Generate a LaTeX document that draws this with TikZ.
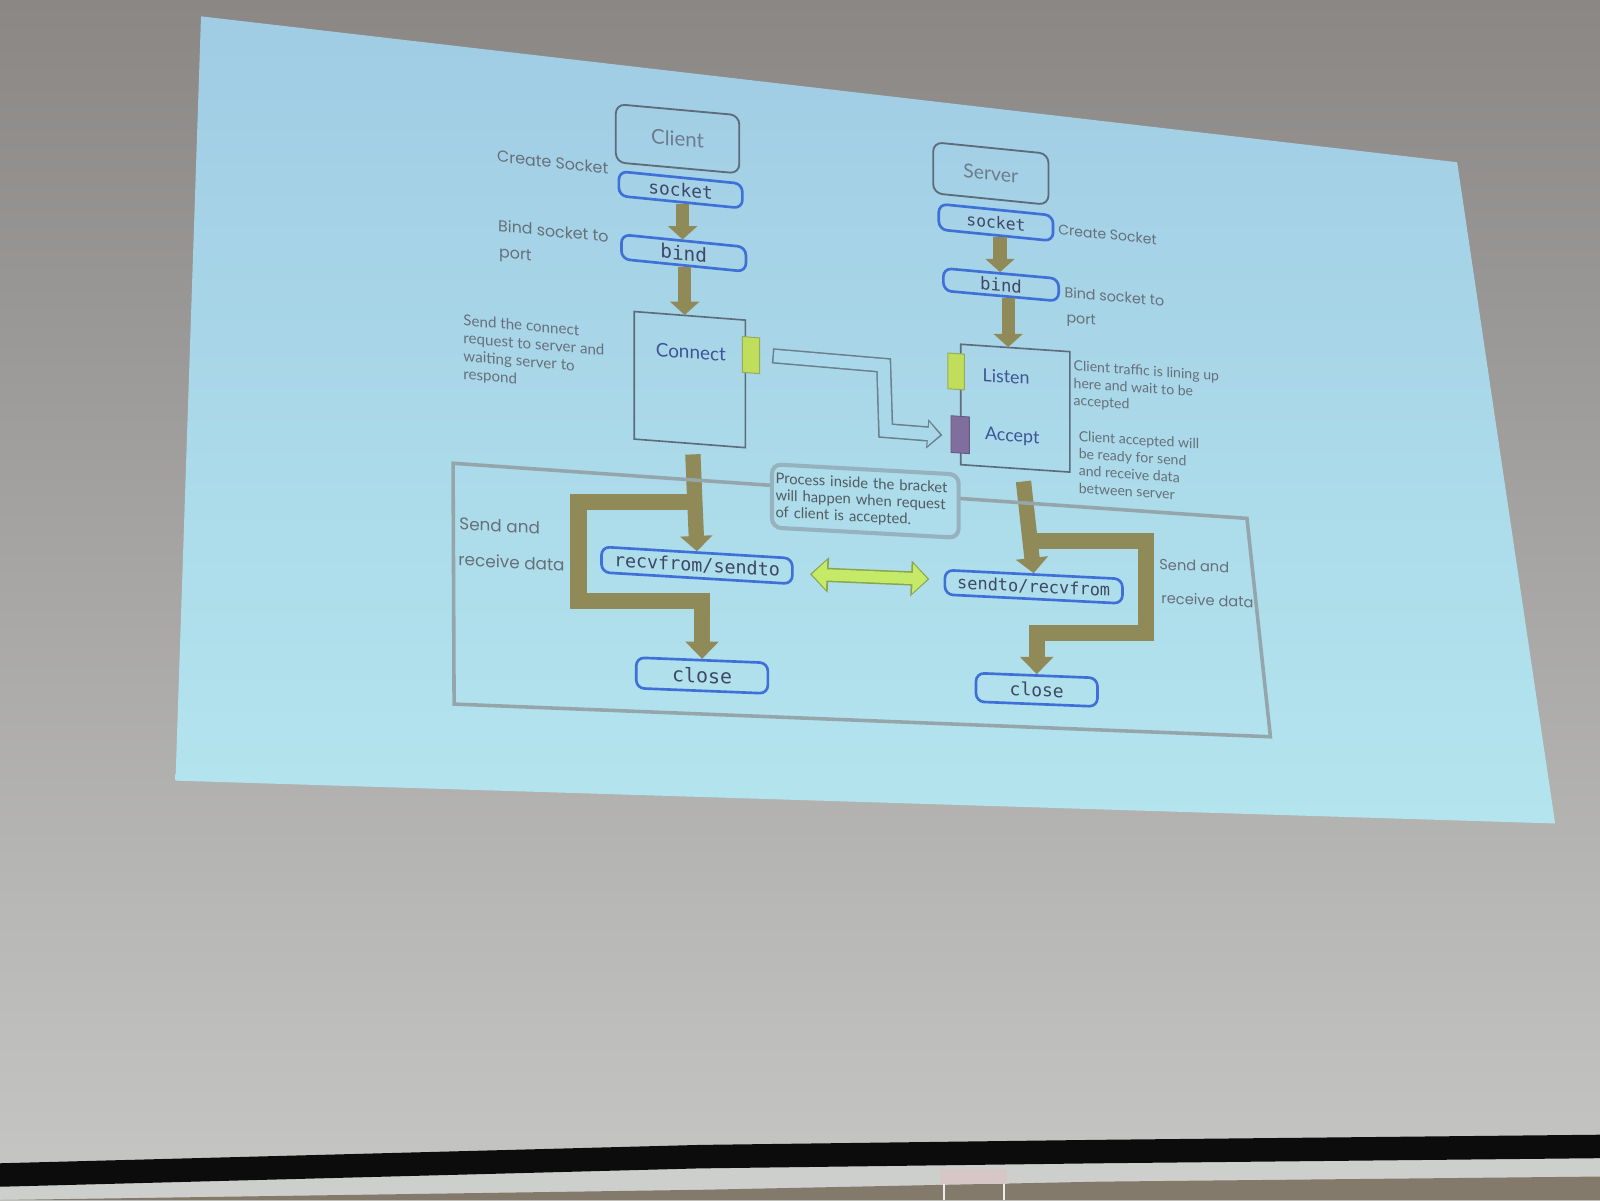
\documentclass[tikz,border=0pt]{standalone}
\usepackage{fontspec}
\usetikzlibrary{arrows.meta,calc}
\newfontfamily\latof{Lato}
\newfontfamily\popf{Poppins}
\newfontfamily\monof{DejaVu Sans Mono}
\definecolor{bgtop}{RGB}{138,135,133}
\definecolor{bgbot}{RGB}{198,199,197}
\definecolor{slidetop}{RGB}{160,204,228}
\definecolor{slidebot}{RGB}{180,229,238}
\definecolor{slidemid}{RGB}{168,216,233}
\definecolor{bandc}{RGB}{12,12,12}
\definecolor{lowc}{RGB}{205,207,205}
\definecolor{brownc}{RGB}{132,122,108}
\definecolor{pillc}{RGB}{62,112,215}
\definecolor{monoc}{RGB}{62,72,100}
\definecolor{boxc}{RGB}{92,108,122}
\definecolor{headc}{RGB}{108,124,142}
\definecolor{conc}{RGB}{62,84,148}
\definecolor{labelc}{RGB}{102,112,122}
\definecolor{olivec}{RGB}{143,138,88}
\definecolor{tabg}{RGB}{192,222,92}
\definecolor{tabgd}{RGB}{150,172,92}
\definecolor{tabp}{RGB}{128,110,158}
\definecolor{hollowc}{RGB}{108,128,140}
\definecolor{goutc}{RGB}{138,165,78}
\definecolor{ginc}{RGB}{196,234,104}
\definecolor{framec}{RGB}{148,166,172}
\definecolor{notec}{RGB}{150,178,190}
\definecolor{clipc}{RGB}{215,198,198}
\begin{document}
\begin{tikzpicture}[x=1pt,y=-1pt,
  sl/.style={yslant=-#1, transform shape},
  pill/.style={draw=pillc, line width=2.6pt, rounded corners=8pt, inner sep=0pt, text=monoc},
  headbox/.style={draw=boxc, line width=1.8pt, rounded corners=9pt, inner sep=0pt, text=headc},
  sqbox/.style={draw=boxc, line width=1.6pt, inner sep=0pt},
  boxtxt/.style={inner sep=0pt, text=conc},
  lbl/.style={inner sep=0pt, text=labelc},
  tabgreen/.style={fill=tabg, draw=tabgd, line width=1pt, inner sep=0pt, minimum width=17pt, minimum height=35pt},
  tabpurple/.style={fill=tabp, draw=tabp!80!black, line width=0.8pt, inner sep=0pt, minimum width=18pt, minimum height=36pt},
  oarrow/.style={draw=olivec, line width=13pt, -{Triangle[width=28pt,length=13pt]}},
  bigarrow/.style={draw=olivec, line width=15pt, -{Triangle[width=31pt,length=15pt]}},
  oloop/.style={draw=olivec, line width=16pt, line join=miter, -{Triangle[width=32pt,length=17pt]}},
  hollowout/.style={draw=hollowc, line width=15pt, line join=miter, -{Triangle[width=28pt,length=15pt]}},
  hollowin/.style={draw=slidemid, line width=12pt, line join=miter, shorten <=1.5pt, shorten >=2.4pt, -{Triangle[width=22.5pt,length=11.5pt]}},
  gout/.style={draw=goutc, line width=14pt, {Triangle[width=34pt,length=18pt]}-{Triangle[width=34pt,length=18pt]}},
  gin/.style={draw=ginc, line width=11pt, shorten <=1.8pt, shorten >=1.8pt, {Triangle[width=28pt,length=14.5pt]}-{Triangle[width=28pt,length=14.5pt]}},
  notebox/.style={draw=notec, line width=4pt, rounded corners=9pt, fill=slidemid!60!slidebot, inner sep=0pt, text=labelc!80!black, align=left}
]
\useasboundingbox (0,0) rectangle (1568,1176);
% room background
\shade[top color=bgtop, bottom color=bgbot] (0,0) rectangle (1568,1176);
% screen bottom band
\fill[lowc] (0,1150) -- (1568,1122) -- (1568,1176) -- (0,1176) -- cycle;
\fill[brownc] (0,1176) -- (686,1166) -- (1078,1158) -- (1568,1153) -- (1568,1176) -- cycle;
\fill[bandc] (0,1140) -- (686,1122) -- (1078,1117) -- (1568,1112) -- (1568,1135) -- (1078,1140) -- (686,1145) -- (0,1163) -- cycle;
\fill[clipc] (921,1146) rectangle (987,1160);
\draw[white!85!gray, line width=2pt] (925,1160) -- (925,1176) (984,1160) -- (984,1176);
% projected slide
\shade[top color=slidetop, bottom color=slidebot] (197,16) -- (1428,159) -- (1524,807) -- (172,765) -- cycle;

% ---------- client column ----------
\node[headbox, shift={(664,136)}, sl=0.09, minimum width=121pt, minimum height=57pt, font=\latof\fontsize{20pt}{20pt}\selectfont] (client) {Client};
\node[pill, shift={(667,186)}, sl=0.1, minimum width=121pt, minimum height=24pt, font=\monof\fontsize{17.5pt}{17.5pt}\selectfont] (csock) {socket};
\node[pill, shift={(670,248)}, sl=0.1, minimum width=122pt, minimum height=24pt, font=\monof\fontsize{19pt}{19pt}\selectfont] (cbind) {bind};
\node[sqbox, shift={(676,372)}, sl=0.077, minimum width=109pt, minimum height=125pt] (conn) {};
\node[boxtxt, shift={(677,345)}, sl=0.077, font=\latof\fontsize{18.5pt}{18.5pt}\selectfont] (conntxt) {Connect};
\node[tabgreen, shift={(736,348)}, sl=0.077] (ctab) {};
\node[pill, shift={(683,554)}, sl=0.06, minimum width=187pt, minimum height=25pt, font=\monof\fontsize{18pt}{18pt}\selectfont] (crecv) {recvfrom/sendto};
\node[pill, shift={(688,662)}, sl=0.04, minimum width=129pt, minimum height=30pt, font=\monof\fontsize{19.5pt}{19.5pt}\selectfont] (cclose) {close};

% ---------- server column ----------
\node[headbox, shift={(971,170)}, sl=0.1, minimum width=113pt, minimum height=50pt, font=\latof\fontsize{19pt}{19pt}\selectfont] (server) {Server};
\node[pill, shift={(976,218)}, sl=0.1, minimum width=112pt, minimum height=25pt, font=\monof\fontsize{16pt}{16pt}\selectfont] (ssock) {socket};
\node[pill, shift={(981,279)}, sl=0.09, minimum width=113pt, minimum height=22pt, font=\monof\fontsize{17pt}{17pt}\selectfont] (sbind) {bind};
\node[sqbox, shift={(995,400)}, sl=0.068, minimum width=107pt, minimum height=118pt] (lst) {};
\node[boxtxt, shift={(986,369)}, sl=0.068, font=\latof\fontsize{17.5pt}{17.5pt}\selectfont] (lsttxt) {Listen};
\node[boxtxt, shift={(992,428)}, sl=0.068, font=\latof\fontsize{17.5pt}{17.5pt}\selectfont] (acctxt) {Accept};
\node[tabgreen, shift={(937,364)}, sl=0.068, minimum width=16pt] (ltab) {};
\node[tabpurple, shift={(941,426)}, sl=0.068] (atab) {};
\node[pill, shift={(1013,575)}, sl=0.05, minimum width=174pt, minimum height=24pt, font=\monof\fontsize{16.6pt}{16.6pt}\selectfont] (ssend) {sendto/recvfrom};
\node[pill, shift={(1016,676)}, sl=0.04, minimum width=119pt, minimum height=28pt, font=\monof\fontsize{17.6pt}{17.6pt}\selectfont] (sclose) {close};

% ---------- labels ----------
\node[lbl, shift={(487,153)}, sl=0.11, anchor=west, font=\popf\fontsize{15.5pt}{18pt}\selectfont] (lcreate) {Create Socket};
\node[lbl, shift={(488,221)}, sl=0.1, anchor=west, font=\popf\fontsize{15.5pt}{18pt}\selectfont] (lbind) {Bind socket to};
\node[lbl, shift={(489,249)}, sl=0.1, anchor=west, font=\popf\fontsize{15.5pt}{18pt}\selectfont] (lport) {port};
\node[lbl, shift={(454,308)}, sl=0.085, anchor=north west, align=left, font=\latof\fontsize{14.8pt}{17.5pt}\selectfont] (lsend) {Send the connect\\request to server and\\waiting server to\\respond};
\node[lbl, shift={(1037,225)}, sl=0.1, anchor=west, font=\popf\fontsize{13.7pt}{16pt}\selectfont] (rcreate) {Create Socket};
\node[lbl, shift={(1043,286)}, sl=0.09, anchor=west, font=\popf\fontsize{14pt}{16pt}\selectfont] (rbind) {Bind socket to};
\node[lbl, shift={(1045,313)}, sl=0.09, anchor=west, font=\popf\fontsize{14pt}{16pt}\selectfont] (rport) {port};
\node[lbl, shift={(1052,353)}, sl=0.07, anchor=north west, align=left, font=\latof\fontsize{13.8pt}{17pt}\selectfont] (rlisten) {Client traffic is lining up\\here and wait to be\\accepted};
\node[lbl, shift={(1057,422)}, sl=0.065, anchor=north west, align=left, font=\latof\fontsize{13.8pt}{17pt}\selectfont] (raccept) {Client accepted will\\be ready for send\\and receive data\\between server};
\node[lbl, shift={(450,513)}, sl=0.055, anchor=west, font=\popf\fontsize{16.5pt}{18pt}\selectfont] (lsa) {Send and};
\node[lbl, shift={(449,548)}, sl=0.055, anchor=west, font=\popf\fontsize{16.5pt}{18pt}\selectfont] (lrd) {receive data};
\node[lbl, shift={(1136,553)}, sl=0.045, anchor=west, font=\popf\fontsize{14.3pt}{16pt}\selectfont] (rsa) {Send and};
\node[lbl, shift={(1138,586)}, sl=0.045, anchor=west, font=\popf\fontsize{14.3pt}{16pt}\selectfont] (rrd) {receive data};

% ---------- olive arrows ----------
\coordinate (a1) at ($(csock.south)+(2,0.2)$);
\coordinate (a2) at ($(cbind.south)+(1,0.1)$);
\coordinate (a3) at ($(ssock.south)+(4,0.4)$);
\coordinate (a4) at ($(sbind.south)+(7,0.6)$);
\draw[oarrow] (a1) -- (a1 |- cbind.north);
\draw[oarrow] (a2) -- (a2 |- conn.north);
\draw[oarrow] (a3) -- (a3 |- sbind.north);
\draw[oarrow] (a4) -- (a4 |- lst.north);

\coordinate (cj1) at (679,492);
\coordinate (cj2) at (567,492);
\coordinate (cj3) at (567,589);
\draw[oloop] (cj1) -- (cj2) -- (cj3) -| (cclose.north);
\draw[bigarrow] ($(conn.south)+(3,10)$) -- (crecv.north);

\coordinate (sj1) at (1004,530);
\coordinate (sj2) at (1123,530);
\coordinate (sj3) at (1123,620);
\draw[oloop] (sj1) -- (sj2) -- (sj3) -| (sclose.north);
\draw[bigarrow] ($(lst.south)+(8,12)$) -- (ssend.north);

% ---------- bracket frame and note ----------
\draw[framec, line width=3.5pt, line join=miter] (444,454) -- (1222,508) -- (1245,722) -- (445,690) -- cycle;
\node[notebox, shift={(848,491)}, sl=0.055, minimum width=183pt, minimum height=62pt, text width=176pt, font=\latof\fontsize{14.5pt}{16.5pt}\selectfont] (note) {Process inside the bracket\\will happen when request\\of client is accepted.};

% ---------- hollow connect arrow ----------
\coordinate (h0) at ($(ctab.east)+(12,0)$);
\coordinate (h1) at (866,358);
\coordinate (h2) at (868,422);
\coordinate (h3) at ($(atab.west)+(-8,1)$);
\draw[hollowout] (h0) -- (h1) -- (h2) -- (h3);
\draw[hollowin] (h0) -- (h1) -- (h2) -- (h3);

% ---------- green data arrow ----------
\draw[gout] ($(crecv.east)+(16,3)$) -- ($(ssend.west)+(-14,-3)$);
\draw[gin] ($(crecv.east)+(16,3)$) -- ($(ssend.west)+(-14,-3)$);
\end{tikzpicture}
\end{document}
